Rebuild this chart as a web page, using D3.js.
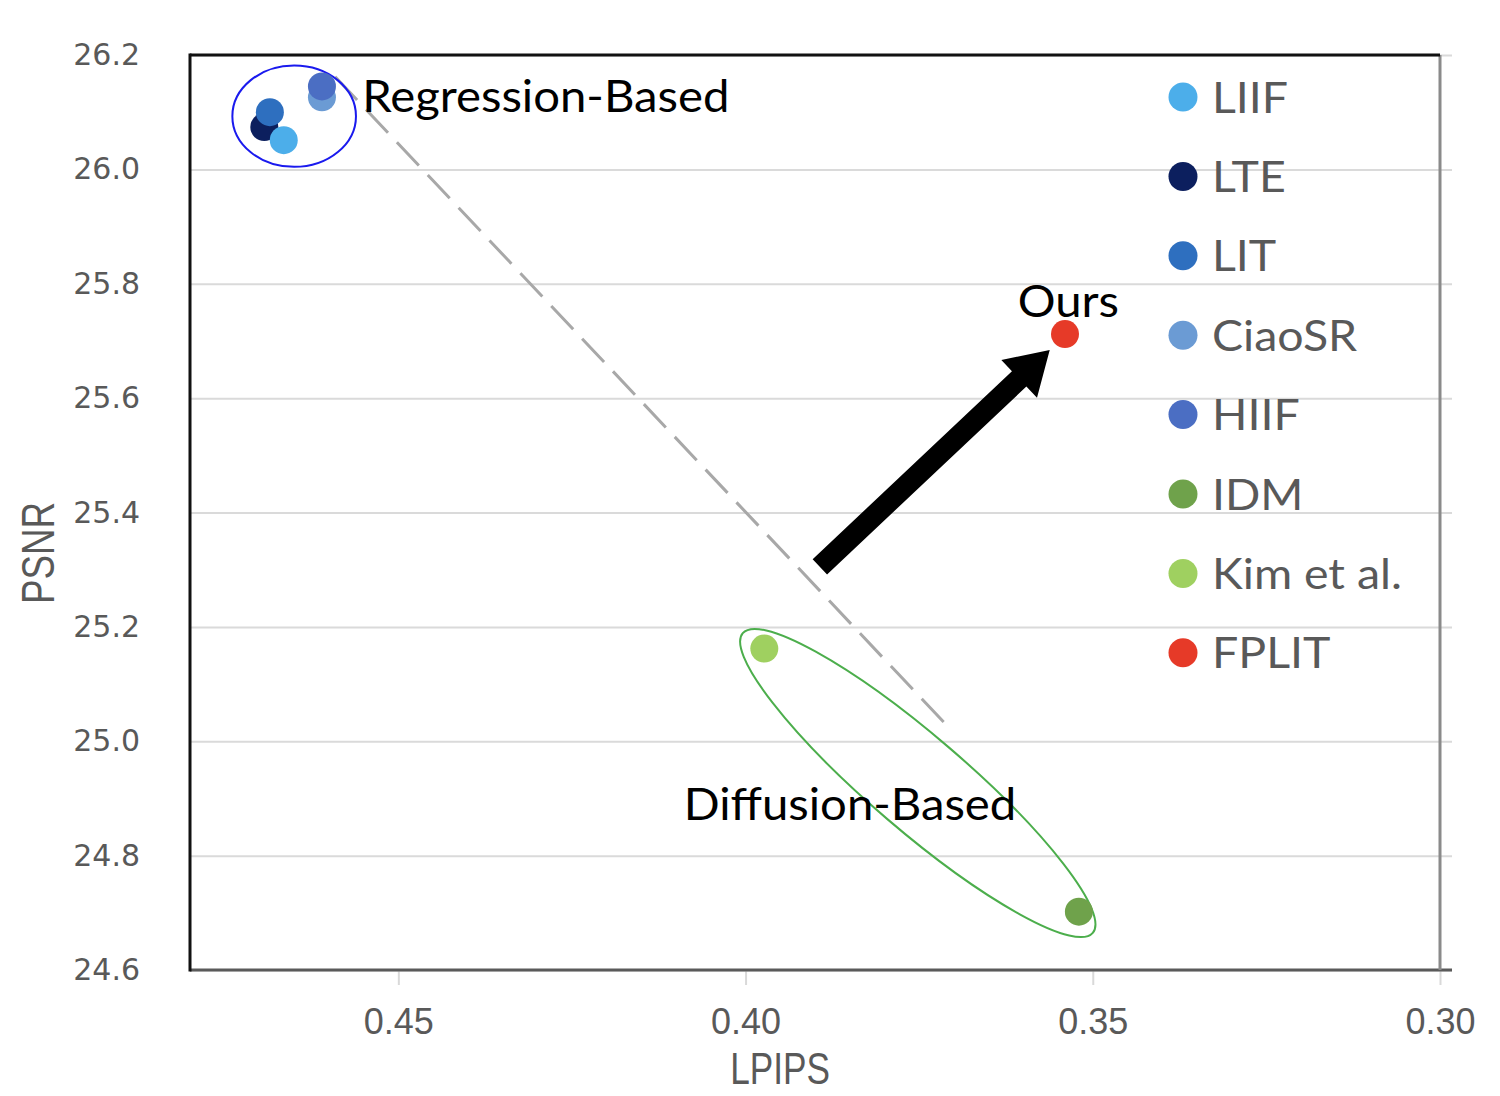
<!DOCTYPE html>
<html>
<head>
<meta charset="utf-8">
<script src="https://cdn.jsdelivr.net/npm/d3@7"></script>
<style>
  html, body { margin: 0; padding: 0; background: #fff; }
  svg { display: block; }
</style>
</head>
<body>
<div id="chart"></div>
<script>
// Methods, in legend order
var methods = ['LIIF', 'LTE', 'LIT', 'CiaoSR', 'HIIF', 'IDM', 'Kim et al.', 'FPLIT'];
var lpips   = [0.4665, 0.4693, 0.4685, 0.4610, 0.4610, 0.3520, 0.3973, 0.3540];
var psnr    = [26.051, 26.074, 26.100, 26.126, 26.145, 24.702, 25.162, 25.712];
var colors  = ['#4caeea', '#0c1f5e', '#2e6fbf', '#6b9bd4', '#4b6ec3', '#6fa24b', '#9fd060', '#e63a28'];
// paint order of the points (LTE sits behind LIT and LIIF)
var drawOrder = [1, 2, 0, 3, 4, 5, 6, 7];

var xTicks = [0.45, 0.40, 0.35, 0.30];
var yTicks = [24.6, 24.8, 25.0, 25.2, 25.4, 25.6, 25.8, 26.0, 26.2];

// Annotations, in data units
var groupLabels = ['Regression-Based', 'Diffusion-Based', 'Ours'];
var groupLabelX = [0.4552, 0.4089, 0.3608];
var groupLabelY = [26.100, 24.863, 25.742];

// ellipses: ends of the major axis + minor/major ratio
var ellipseFrom  = [[0.4739, 26.093], [0.4004, 25.189]];
var ellipseTo    = [[0.4561, 26.093], [0.3500, 24.665]];
var ellipseRatio = [0.82, 0.205];
var ellipseColor = ['#1a1aee', '#4cae4c'];

var trendLine = [[0.4591, 26.162], [0.3712, 25.030]];
var arrowLine = [[0.3893, 25.305], [0.3562, 25.684]];

var W = 1500, H = 1096;
var plotL = 190, plotR = 1440, plotT = 55, plotB = 970;

var svg = d3.select('#chart').append('svg')
    .attr('width', W)
    .attr('height', H);

svg.append('rect').attr('width', W).attr('height', H).attr('fill', '#fff');

var x = d3.scaleLinear().domain([0.48, 0.30]).range([plotL, plotR]);
var y = d3.scaleLinear().domain([24.6, 26.2]).range([plotB, plotT]);

// gridlines
svg.append('g')
    .attr('transform', 'translate(' + plotL + ',0)')
    .call(d3.axisLeft(y).tickValues(yTicks).tickSize(-(plotR - plotL + 12)).tickFormat(''))
    .call(function (g) {
        g.select('.domain').remove();
        g.selectAll('line').attr('stroke', '#dadada').attr('stroke-width', 2);
    });

// x ticks + labels
svg.append('g')
    .attr('transform', 'translate(0,' + plotB + ')')
    .call(d3.axisBottom(x).tickValues(xTicks).tickSize(15).tickPadding(23).tickFormat(d3.format('.2f')))
    .call(function (g) {
        g.select('.domain').remove();
        g.selectAll('line').attr('stroke', '#d9d9d9').attr('stroke-width', 2);
        g.selectAll('text')
            .attr('fill', '#595959')
            .style('font-family', '"Liberation Sans", sans-serif')
            .style('font-size', '36px');
    });

// y labels
svg.append('g')
    .attr('transform', 'translate(' + plotL + ',0)')
    .call(d3.axisLeft(y).tickValues(yTicks).tickSize(0).tickPadding(50).tickFormat(d3.format('.1f')))
    .call(function (g) {
        g.select('.domain').remove();
        g.selectAll('text')
            .attr('fill', '#595959')
            .style('font-family', '"DejaVu Sans", sans-serif')
            .style('font-size', '30px');
    });

// frame
svg.append('line').attr('x1', plotL).attr('x2', plotR + 12).attr('y1', plotB).attr('y2', plotB)
    .attr('stroke', '#5a5a5a').attr('stroke-width', 3);
svg.append('line').attr('x1', plotR).attr('x2', plotR).attr('y1', plotT).attr('y2', plotB)
    .attr('stroke', '#8a8a8a').attr('stroke-width', 3);
svg.append('line').attr('x1', plotL).attr('x2', plotR).attr('y1', plotT).attr('y2', plotT)
    .attr('stroke', '#111').attr('stroke-width', 3);
svg.append('line').attr('x1', plotL).attr('x2', plotL).attr('y1', plotT - 1.5).attr('y2', plotB + 1.5)
    .attr('stroke', '#111').attr('stroke-width', 3);

// axis titles (squeezed to look like a narrow face)
svg.append('text')
    .attr('transform', 'translate(780,1084) scale(0.8,1)')
    .attr('text-anchor', 'middle')
    .attr('fill', '#595959')
    .style('font-family', '"Liberation Sans", sans-serif')
    .style('font-size', '44px')
    .text('LPIPS');

svg.append('text')
    .attr('transform', 'translate(54,553) rotate(-90) scale(0.8,1)')
    .attr('text-anchor', 'middle')
    .attr('fill', '#595959')
    .style('font-family', '"Liberation Sans", sans-serif')
    .style('font-size', '46px')
    .text('PSNR');

// dashed trend line
svg.append('line')
    .attr('x1', x(trendLine[0][0])).attr('y1', y(trendLine[0][1]))
    .attr('x2', x(trendLine[1][0])).attr('y2', y(trendLine[1][1]))
    .attr('stroke', '#a8a8a8').attr('stroke-width', 3)
    .attr('stroke-dasharray', '32 13');

// ellipses around the groups
ellipseFrom.forEach(function (p, i) {
    var x1 = x(p[0]), y1 = y(p[1]);
    var x2 = x(ellipseTo[i][0]), y2 = y(ellipseTo[i][1]);
    var a = Math.hypot(x2 - x1, y2 - y1) / 2;
    var ang = Math.atan2(y2 - y1, x2 - x1) * 180 / Math.PI;
    svg.append('ellipse')
        .attr('transform', 'translate(' + ((x1 + x2) / 2) + ',' + ((y1 + y2) / 2) + ') rotate(' + ang + ')')
        .attr('rx', a)
        .attr('ry', a * ellipseRatio[i])
        .attr('fill', 'none')
        .attr('stroke', ellipseColor[i])
        .attr('stroke-width', 2);
});

// big arrow
(function () {
    var x1 = x(arrowLine[0][0]), y1 = y(arrowLine[0][1]);
    var x2 = x(arrowLine[1][0]), y2 = y(arrowLine[1][1]);
    var len = Math.hypot(x2 - x1, y2 - y1);
    var ang = Math.atan2(y2 - y1, x2 - x1) * 180 / Math.PI;
    var shaft = 10.5, head = 26, headLen = 42;
    var pts = [
        [0, -shaft], [len - headLen, -shaft], [len - headLen, -head], [len, 0],
        [len - headLen, head], [len - headLen, shaft], [0, shaft]
    ];
    svg.append('path')
        .attr('transform', 'translate(' + x1 + ',' + y1 + ') rotate(' + ang + ')')
        .attr('d', d3.line()(pts) + 'Z')
        .attr('fill', '#000');
})();

// points
svg.append('g').selectAll('circle')
    .data(drawOrder)
    .enter()
    .append('circle')
    .attr('cx', function (i) { return x(lpips[i]); })
    .attr('cy', function (i) { return y(psnr[i]); })
    .attr('r', 14)
    .attr('fill', function (i) { return colors[i]; });

// group labels
svg.append('g').selectAll('text')
    .data(groupLabels)
    .enter()
    .append('text')
    .attr('transform', function (d, i) {
        return 'translate(' + x(groupLabelX[i]) + ',' + y(groupLabelY[i]) + ') scale(1.05,1)';
    })
    .attr('fill', '#000')
    .style('font-family', 'Lato, sans-serif')
    .style('font-size', '45px')
    .text(function (d) { return d; });

// legend
var legend = svg.append('g').selectAll('g')
    .data(methods)
    .enter()
    .append('g')
    .attr('transform', function (d, i) { return 'translate(1183,' + (97 + i * 79.4) + ')'; });

legend.append('circle')
    .attr('r', 14.5)
    .attr('fill', function (d, i) { return colors[i]; });

legend.append('text')
    .attr('transform', 'translate(29,15.5) scale(1.08,1)')
    .attr('fill', '#595959')
    .style('font-family', 'Lato, sans-serif')
    .style('font-size', '43px')
    .text(function (d) { return d; });
</script>
</body>
</html>
